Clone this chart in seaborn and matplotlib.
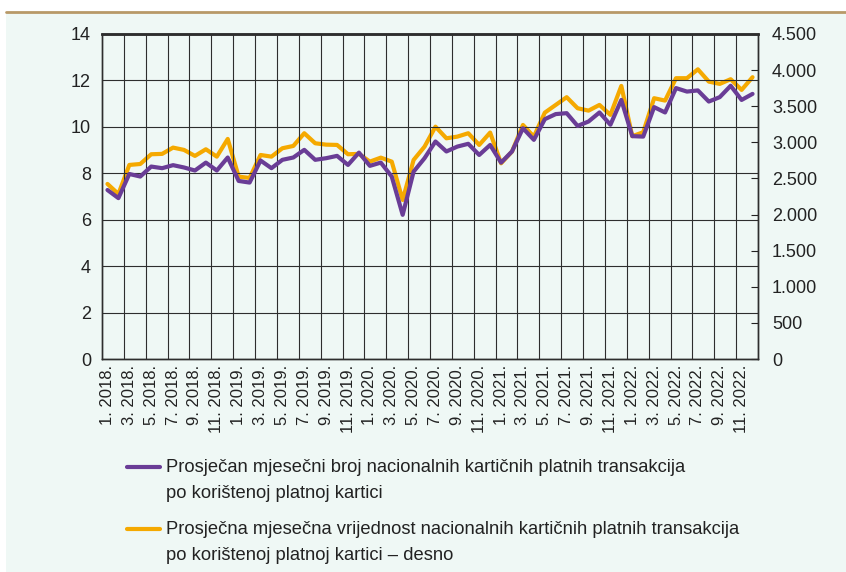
import numpy as np
import pandas as pd
import matplotlib.pyplot as plt
import seaborn as sns
from matplotlib.lines import Line2D

# ------------------------------ data ------------------------------
years = [2018, 2019, 2020, 2021, 2022]
months = [f"{m}. {y}." for y in years for m in range(1, 13)]

# average monthly number of transactions per card (left axis)
count = [7.28, 6.93, 7.97, 7.86, 8.29, 8.22, 8.35, 8.25, 8.12, 8.46, 8.12, 8.68,
         7.67, 7.60, 8.55, 8.22, 8.58, 8.68, 9.01, 8.58, 8.65, 8.75, 8.36, 8.89,
         8.32, 8.46, 7.86, 6.21, 8.07, 8.65, 9.37, 8.94, 9.15, 9.27, 8.79, 9.22,
         8.46, 8.94, 9.94, 9.44, 10.33, 10.55, 10.59, 10.04, 10.23, 10.62, 10.09, 11.16,
         9.60, 9.58, 10.85, 10.62, 11.67, 11.52, 11.57, 11.09, 11.28, 11.77, 11.16, 11.42]

# average monthly value of transactions per card (right axis)
value = [2424, 2285, 2687, 2700, 2835, 2840, 2927, 2895, 2812, 2904, 2802, 3047,
         2525, 2507, 2825, 2802, 2918, 2950, 3126, 2987, 2968, 2964, 2835, 2840,
         2733, 2788, 2733, 2202, 2756, 2940, 3217, 3056, 3079, 3126, 2964, 3135,
         2710, 2872, 3241, 3079, 3411, 3518, 3625, 3472, 3439, 3518, 3380, 3781,
         3085, 3140, 3611, 3578, 3888, 3888, 4011, 3841, 3809, 3874, 3726, 3902]

label_count = ["Prosječan mjesečni broj nacionalnih kartičnih platnih transakcija",
               "po korištenoj platnoj kartici"]
label_value = ["Prosječna mjesečna vrijednost nacionalnih kartičnih platnih transakcija",
               "po korištenoj platnoj kartici – desno"]

df = pd.DataFrame({"idx": np.arange(len(months)), "count": count, "value": value})

# ------------------------------ plot ------------------------------
sns.set_style("white")
plt.rcParams['font.family'] = ['Liberation Sans', 'DejaVu Sans']

purple = "#6a3d96"
orange = "#f5a900"
bg = "#eff8f5"
grid_c = "#2e2e2e"
txt_c = "#222222"

fig = plt.figure(figsize=(8.46, 5.72), dpi=100)
fig.patch.set_facecolor("white")
# mint panel below the tan rule
fig.add_artist(plt.Rectangle((0.007, 0), 0.993, 1 - 12 / 572, transform=fig.transFigure,
                             facecolor=bg, edgecolor="none", zorder=-10))
fig.add_artist(Line2D([0.007, 1], [1 - 12 / 572, 1 - 12 / 572], transform=fig.transFigure,
                      color="#b89968", lw=2))

ax = fig.add_axes([102 / 846, 1 - 359 / 572, 656 / 846, 325 / 572])
ax2 = ax.twinx()

sns.lineplot(data=df, x="idx", y="value", ax=ax2, color=orange, lw=3, zorder=3)
sns.lineplot(data=df, x="idx", y="count", ax=ax, color=purple, lw=3, zorder=3)
ax.set_zorder(ax2.get_zorder() + 1)
ax.patch.set_visible(False)
ax2.patch.set_facecolor(bg)

ax.set_xlim(-0.5, len(months) - 0.5)
ax.set_ylim(0, 14)
ax2.set_ylim(0, 4500)

ax.set_yticks(np.arange(0, 15, 2))
ax.set_yticklabels([str(v) for v in range(0, 15, 2)], fontsize=13)
ax2.set_yticks(np.arange(0, 4501, 500))
ax2.set_yticklabels([f"{v:,}".replace(",", ".") for v in range(0, 4501, 500)], fontsize=13)

ax.set_xticks(np.arange(0, len(months), 2))
ax.set_xticklabels(months[::2], rotation=90, fontsize=12)
ax.set_xticks(np.arange(-0.5, len(months), 2)[1:], minor=True)

ax.tick_params(axis="x", which="both", length=0, pad=4, colors=txt_c)
ax.tick_params(axis="y", length=0, pad=8, colors=txt_c)
ax2.tick_params(axis="y", direction="in", length=5, width=0.8, pad=10, colors=txt_c)

ax.grid(True, axis="y", color=grid_c, lw=0.8)
ax.grid(True, axis="x", which="minor", color=grid_c, lw=0.8)
ax.set_axisbelow(True)
for a in (ax, ax2):
    a.set_xlabel("")
    a.set_ylabel("")
    for s in a.spines.values():
        s.set_color(grid_c)
        s.set_linewidth(1.0)
    a.spines["top"].set_linewidth(1.8)

# legend drawn by hand: handle sits on the first line of each two-line label
x0, x1, xt = 127 / 846, 160 / 846, 166 / 846
for color, lines, ytop in [(purple, label_count, 467), (orange, label_value, 529)]:
    y = 1 - ytop / 572
    fig.add_artist(Line2D([x0, x1], [y, y], transform=fig.transFigure, color=color, lw=3))
    for k, line in enumerate(lines):
        fig.text(xt, 1 - (ytop + 26 * k) / 572, line, fontsize=13.2, color=txt_c,
                 ha="left", va="center")

fig.savefig("out.png", dpi=100, facecolor=fig.get_facecolor())
